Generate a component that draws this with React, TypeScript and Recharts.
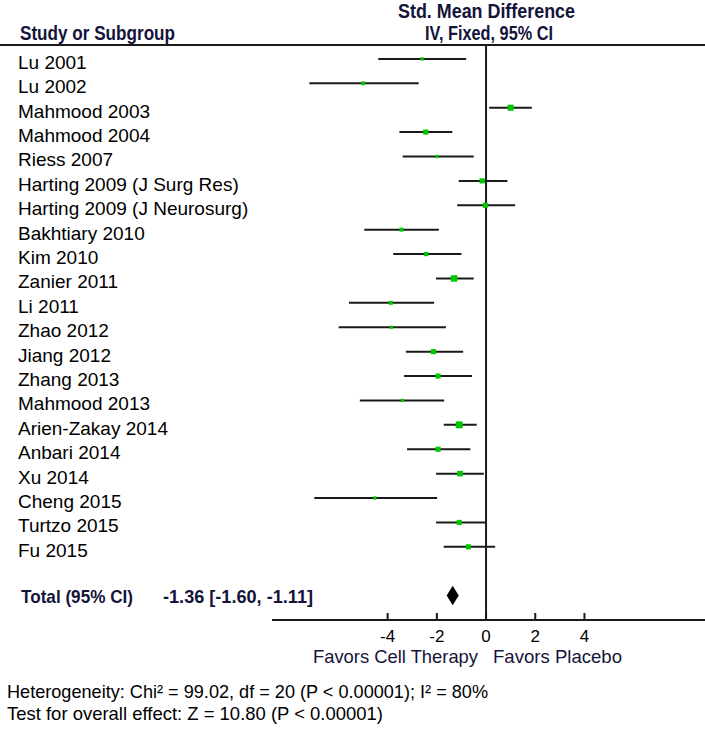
import React from "react";
import {
  ComposedChart,
  Scatter,
  ErrorBar,
  XAxis,
  YAxis,
  ReferenceLine,
  ReferenceArea,
} from "recharts";

// study rows, top to bottom
const studies = [
  "Lu 2001",
  "Lu 2002",
  "Mahmood 2003",
  "Mahmood 2004",
  "Riess 2007",
  "Harting 2009 (J Surg Res)",
  "Harting 2009 (J Neurosurg)",
  "Bakhtiary 2010",
  "Kim 2010",
  "Zanier 2011",
  "Li 2011",
  "Zhao 2012",
  "Jiang 2012",
  "Zhang 2013",
  "Mahmood 2013",
  "Arien-Zakay 2014",
  "Anbari 2014",
  "Xu 2014",
  "Cheng 2015",
  "Turtzo 2015",
  "Fu 2015",
];

// std. mean difference and 95% CI
const estimates = [-2.6, -4.99, 1.0, -2.45, -1.99, -0.16, -0.03, -3.44, -2.43, -1.3, -3.87, -3.85, -2.14, -1.95, -3.4, -1.09, -1.95, -1.06, -4.52, -1.09, -0.72];
const lower = [-4.38, -7.18, 0.13, -3.52, -3.39, -1.11, -1.17, -4.95, -3.77, -2.03, -5.57, -5.99, -3.26, -3.33, -5.13, -1.72, -3.21, -2.03, -6.98, -2.03, -1.72];
const upper = [-0.81, -2.74, 1.86, -1.37, -0.5, 0.87, 1.18, -1.92, -1.0, -0.5, -2.11, -1.63, -0.93, -0.57, -1.7, -0.38, -0.64, -0.09, -1.99, 0.03, 0.37];
// relative study weights (%), drive the square size
const weights = [2, 3, 7, 5, 2, 5, 5, 3, 3.5, 8, 3, 2, 5, 5, 2, 9, 5, 6, 2, 5, 5];

const total = { est: -1.36, lo: -1.6, hi: -1.11 };
const xTicks = [-4, -2, 0, 2, 4];

const TOTAL_ROW = 22;
const rows = studies.map((_, i) => i);

const data = studies.map((name, i) => ({
  name,
  x: estimates[i],
  y: i,
  err: [estimates[i] - lower[i], upper[i] - estimates[i]],
  w: weights[i],
}));

const FONT = "'Liberation Sans', Arial, sans-serif";
const NAVY = "#14143a";

const Square = (props: any) => {
  const { cx, cy, payload } = props;
  const s = Math.sqrt(payload.w) * 2.3;
  return <rect x={cx - s / 2} y={cy - s / 2} width={s} height={s} fill="#00c800" />;
};

const Diamond = (props: any) => {
  const { x, y, width, height } = props;
  const mx = x + width / 2;
  const my = y + height / 2;
  return (
    <polygon
      points={`${x},${my} ${mx},${y} ${x + width},${my} ${mx},${y + height}`}
      fill="#000"
    />
  );
};

const RowLabel = (props: any) => {
  const { y, payload } = props;
  if (payload.value === TOTAL_ROW) {
    return (
      <g fontFamily={FONT} fontWeight="bold" fontSize={19} fill={NAVY}>
        <text x={21} y={y + 1} dominantBaseline="central" textLength={112} lengthAdjust="spacingAndGlyphs">
          Total (95% CI)
        </text>
        <text x={163} y={y + 1} dominantBaseline="central" textLength={150} lengthAdjust="spacingAndGlyphs">
          {`${total.est.toFixed(2)} [${total.lo.toFixed(2)}, ${total.hi.toFixed(2)}]`}
        </text>
      </g>
    );
  }
  return (
    <text
      x={18}
      y={y + 3.5}
      dominantBaseline="central"
      fontFamily={FONT}
      fontSize={19}
      fill="#000"
    >
      {studies[payload.value]}
    </text>
  );
};

export default function App() {
  return (
    <div style={{ position: "absolute", left: 0, top: 0, width: 705, height: 729, background: "#fff" }}>
      <ComposedChart
        width={705}
        height={729}
        margin={{ top: 45, right: 0, bottom: 79, left: 0 }}
      >
        <XAxis
          type="number"
          dataKey="x"
          domain={[-8.7, 8.9]}
          ticks={xTicks}
          allowDataOverflow
          height={30}
          tickSize={-7}
          tickMargin={17}
          axisLine={{ stroke: "#1a1a1a", strokeWidth: 2 }}
          tickLine={{ stroke: "#1a1a1a", strokeWidth: 2 }}
          tick={{ fill: "#000", fontSize: 17, fontFamily: FONT }}
        />
        <YAxis
          type="number"
          dataKey="y"
          domain={[-0.57, 23]}
          reversed
          allowDataOverflow
          ticks={[...rows, TOTAL_ROW]}
          interval={0}
          width={272}
          axisLine={false}
          tickLine={false}
          tick={<RowLabel />}
        />
        <ReferenceLine x={0} stroke="#1a1a1a" strokeWidth={2} />
        <Scatter data={data} shape={<Square />} isAnimationActive={false}>
          <ErrorBar dataKey="err" direction="x" width={0} stroke="#1a1a1a" strokeWidth={2} />
        </Scatter>
        <ReferenceArea
          x1={total.lo}
          x2={total.hi}
          y1={TOTAL_ROW - 0.4}
          y2={TOTAL_ROW + 0.4}
          shape={<Diamond />}
        />
      </ComposedChart>
      <svg
        width={705}
        height={729}
        style={{ position: "absolute", left: 0, top: 0, pointerEvents: "none" }}
        fontFamily={FONT}
      >
        <line x1={0} x2={705} y1={45} y2={45} stroke="#1a1a1a" strokeWidth={2} />
        <g fontWeight="bold" fontSize={20} fill={NAVY}>
          <text x={398} y={18} textLength={177} lengthAdjust="spacingAndGlyphs">
            Std. Mean Difference
          </text>
          <text x={425} y={40} textLength={128} lengthAdjust="spacingAndGlyphs">
            IV, Fixed, 95% CI
          </text>
          <text x={20} y={40} textLength={155} lengthAdjust="spacingAndGlyphs">
            Study or Subgroup
          </text>
        </g>
        <g fontSize={19} fill={NAVY}>
          <text x={313} y={663} textLength={165} lengthAdjust="spacingAndGlyphs">
            Favors Cell Therapy
          </text>
          <text x={493} y={663} textLength={129} lengthAdjust="spacingAndGlyphs">
            Favors Placebo
          </text>
        </g>
        <g fontSize={18.5} fill="#000">
          <text x={7} y={698} textLength={481} lengthAdjust="spacingAndGlyphs">
            Heterogeneity: Chi² = 99.02, df = 20 (P &lt; 0.00001); I² = 80%
          </text>
          <text x={7} y={720} textLength={376} lengthAdjust="spacingAndGlyphs">
            Test for overall effect: Z = 10.80 (P &lt; 0.00001)
          </text>
        </g>
      </svg>
    </div>
  );
}
